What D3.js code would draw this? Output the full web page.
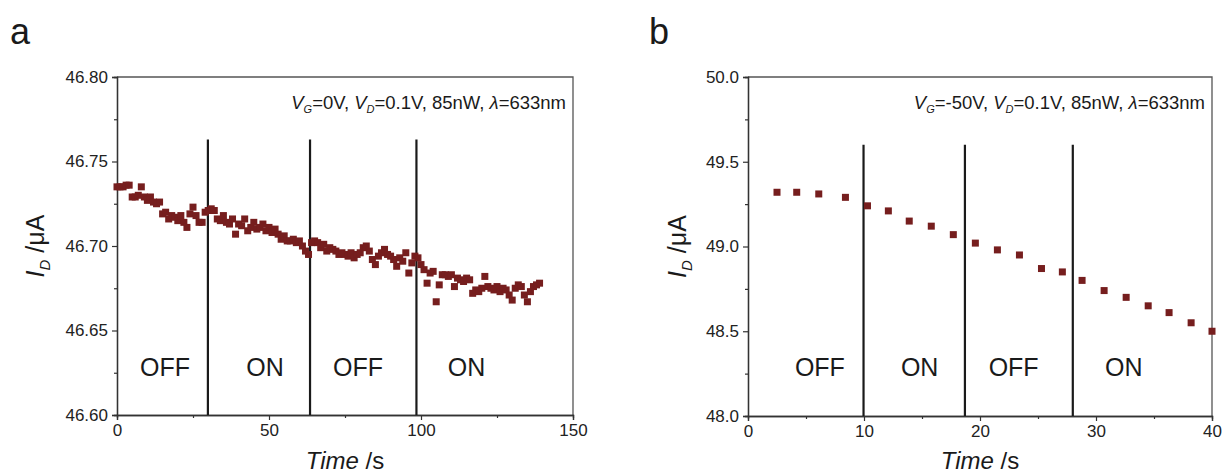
<!DOCTYPE html>
<html>
<head>
<meta charset="utf-8">
<script src="https://cdn.jsdelivr.net/npm/d3@7"></script>
<style>
  body { margin: 0; background: #ffffff; }
  svg { display: block; font-family: "Liberation Sans", Arial, sans-serif; }
</style>
</head>
<body>
<script>
// panel a: photocurrent at VG = 0 V, one point per second
const timeA = [0,1,2,3,4,5,6,7,8,9,10,11,12,13,14,15,16,17,18,19,20,21,22,23,24,25,26,27,28,29,
  30,31,32,33,34,35,36,37,38,39,40,41,42,43,44,45,46,47,48,49,50,51,52,53,54,55,56,57,58,59,
  60,61,62,63,64,65,66,67,68,69,70,71,72,73,74,75,76,77,78,79,80,81,82,83,84,85,86,87,88,89,
  90,91,92,93,94,95,96,97,98,99,100,101,102,103,104,105,106,107,108,109,110,111,112,113,114,
  115,116,117,118,119,120,121,122,123,124,125,126,127,128,129,130,131,132,133,134,135,136,137,138,139]
const currentA = [46.735,46.735,46.735,46.736,46.736,46.729,46.729,46.730,46.735,46.729,
  46.727,46.729,46.726,46.725,46.726,46.719,46.720,46.716,46.718,46.717,
  46.715,46.718,46.714,46.711,46.719,46.723,46.718,46.714,46.714,46.720,
  46.721,46.722,46.721,46.716,46.715,46.718,46.714,46.713,46.716,46.707,
  46.713,46.712,46.716,46.709,46.711,46.714,46.710,46.711,46.713,46.709,
  46.711,46.708,46.710,46.707,46.704,46.706,46.703,46.703,46.704,46.702,
  46.703,46.700,46.697,46.695,46.702,46.703,46.702,46.699,46.701,46.697,
  46.699,46.698,46.697,46.695,46.696,46.695,46.694,46.696,46.693,46.695,
  46.696,46.699,46.700,46.697,46.692,46.689,46.694,46.696,46.698,46.695,
  46.694,46.692,46.688,46.693,46.691,46.696,46.684,46.690,46.694,46.693,
  46.689,46.686,46.678,46.684,46.685,46.667,46.677,46.683,46.683,46.682,
  46.683,46.676,46.681,46.680,46.679,46.681,46.680,46.672,46.674,46.673,
  46.675,46.682,46.676,46.675,46.674,46.676,46.673,46.675,46.674,46.671,
  46.668,46.675,46.677,46.676,46.671,46.667,46.673,46.676,46.677,46.678]

// panel b: VG = -50 V
const timeB = [2.5,4.2,6.1,8.4,10.3,12.1,13.9,15.8,17.7,19.6,21.5,23.4,25.3,27.1,28.8,30.7,32.6,34.5,36.3,38.2,40.0]
const currentB = [49.32,49.32,49.31,49.29,49.24,49.21,49.15,49.12,49.07,49.02,48.98,48.95,48.87,48.85,48.80,48.74,48.70,48.65,48.61,48.55,48.50]

// light switching times and state labels
const switchA = [29.9, 63.5, 98.5]
const switchB = [9.96, 18.7, 28.0]
const states = ["OFF", "ON", "OFF", "ON"]
const stateTimeA = [15.8, 48.7, 79.3, 115]
const stateTimeB = [6.2, 14.8, 22.9, 32.4]

const xTicksA = [0, 50, 100, 150]
const xMinorA = [25, 75, 125]
const yTicksA = [46.60, 46.65, 46.70, 46.75, 46.80]
const yMinorA = [46.625, 46.675, 46.725, 46.775]
const xTicksB = [0, 10, 20, 30, 40]
const xMinorB = [5, 15, 25, 35]
const yTicksB = [48.0, 48.5, 49.0, 49.5, 50.0]
const yMinorB = [48.25, 48.75, 49.25, 49.75]

const W = 1226, H = 475
const markColor = '#761e1e'

const svg = d3.select('body').append('svg')
  .attr('width', W)
  .attr('height', H)

function panel(o) {
  const x = d3.scaleLinear().domain(o.xDomain).range([o.left, o.right])
  const y = d3.scaleLinear().domain(o.yDomain).range([o.bottom, o.top])
  const g = svg.append('g')

  // frame (top + right)
  g.append('path')
    .attr('d', `M${o.left},${o.top}H${o.right}V${o.bottom}`)
    .attr('fill', 'none')
    .attr('stroke', '#555')
    .attr('stroke-width', 1.3)

  // minor ticks
  g.append('g').attr('transform', `translate(0,${o.bottom})`)
    .call(d3.axisBottom(x).tickValues(o.xMinor).tickSize(3).tickFormat(''))
  g.append('g').attr('transform', `translate(${o.left},0)`)
    .call(d3.axisLeft(y).tickValues(o.yMinor).tickSize(3).tickFormat(''))

  // major axes
  g.append('g').attr('transform', `translate(0,${o.bottom})`)
    .call(d3.axisBottom(x).tickValues(o.xTicks).tickSize(5).tickPadding(4).tickFormat(d3.format('d')))
  g.append('g').attr('transform', `translate(${o.left},0)`)
    .call(d3.axisLeft(y).tickValues(o.yTicks).tickSize(5).tickPadding(4).tickFormat(d3.format(o.yFmt)))

  g.selectAll('.domain').attr('stroke', '#333').attr('stroke-width', 1.3)
  g.selectAll('.tick line').attr('stroke', '#333').attr('stroke-width', 1.2)
  g.selectAll('.tick text')
    .attr('fill', '#222')
    .style('font-family', '"Liberation Sans", Arial, sans-serif')
    .style('font-size', '17px')

  // switching lines
  g.selectAll('.switch')
    .data(o.switches)
    .enter()
    .append('line')
    .attr('x1', d => x(d))
    .attr('x2', d => x(d))
    .attr('y1', y(o.lineTop))
    .attr('y2', o.bottom)
    .attr('stroke', '#1a1a1a')
    .attr('stroke-width', 2.2)

  // data points
  const s = o.markSize
  g.selectAll('.pt')
    .data(o.t.map((t, i) => [t, o.v[i]]))
    .enter()
    .append('rect')
    .attr('x', d => x(d[0]) - s / 2)
    .attr('y', d => y(d[1]) - s / 2)
    .attr('width', s)
    .attr('height', s)
    .attr('fill', markColor)

  // OFF / ON labels
  g.selectAll('.state')
    .data(states)
    .enter()
    .append('text')
    .attr('x', (d, i) => x(o.stateT[i]))
    .attr('y', 376)
    .attr('text-anchor', 'middle')
    .attr('fill', '#1a1a1a')
    .style('font-size', '25px')
    .text(d => d)

  // condition annotation
  const ann = g.append('text')
    .attr('x', o.right - 7)
    .attr('y', 109)
    .attr('text-anchor', 'end')
    .attr('fill', '#1a1a1a')
    .style('font-size', '18.5px')
  ann.append('tspan').attr('font-style', 'italic').text('V')
  ann.append('tspan').attr('font-style', 'italic').attr('font-size', '11px').attr('dy', 4).text('G')
  ann.append('tspan').attr('dy', -4).text(`=${o.vg}V, `)
  ann.append('tspan').attr('font-style', 'italic').text('V')
  ann.append('tspan').attr('font-style', 'italic').attr('font-size', '11px').attr('dy', 4).text('D')
  ann.append('tspan').attr('dy', -4).text('=0.1V, 85nW, ')
  ann.append('tspan').attr('font-style', 'italic').text('λ')
  ann.append('tspan').text('=633nm')

  // x title
  const xt = g.append('text')
    .attr('x', (o.left + o.right) / 2)
    .attr('y', 469)
    .attr('text-anchor', 'middle')
    .attr('fill', '#1a1a1a')
    .style('font-size', '24px')
  xt.append('tspan').attr('font-style', 'italic').text('Time')
  xt.append('tspan').text(' /s')

  // y title
  const cy = (o.top + o.bottom) / 2
  const yt = g.append('text')
    .attr('transform', `translate(${o.ylabX},${cy}) rotate(-90)`)
    .attr('text-anchor', 'middle')
    .attr('fill', '#1a1a1a')
    .style('font-size', '25px')
  yt.append('tspan').attr('font-style', 'italic').text('I')
  yt.append('tspan').attr('font-style', 'italic').attr('font-size', '15px').attr('dy', 6).text('D')
  yt.append('tspan').attr('dy', -6).text(' /μA')

  // panel letter
  svg.append('text')
    .attr('x', o.letterX)
    .attr('y', 44)
    .attr('fill', '#1a1a1a')
    .style('font-size', '36px')
    .text(o.letter)
}

panel({
  letter: 'a', letterX: 10,
  left: 117, right: 573, top: 77, bottom: 415,
  xDomain: [0, 150], yDomain: [46.60, 46.80],
  xTicks: xTicksA, xMinor: xMinorA, yTicks: yTicksA, yMinor: yMinorA, yFmt: '.2f',
  t: timeA, v: currentA, markSize: 7,
  switches: switchA, lineTop: 46.763, stateT: stateTimeA,
  vg: '0', ylabX: 44
})

panel({
  letter: 'b', letterX: 649,
  left: 748, right: 1212, top: 77, bottom: 416,
  xDomain: [0, 40], yDomain: [48.0, 50.0],
  xTicks: xTicksB, xMinor: xMinorB, yTicks: yTicksB, yMinor: yMinorB, yFmt: '.1f',
  t: timeB, v: currentB, markSize: 7,
  switches: switchB, lineTop: 49.6, stateT: stateTimeB,
  vg: '-50', ylabX: 686
})
</script>
</body>
</html>
